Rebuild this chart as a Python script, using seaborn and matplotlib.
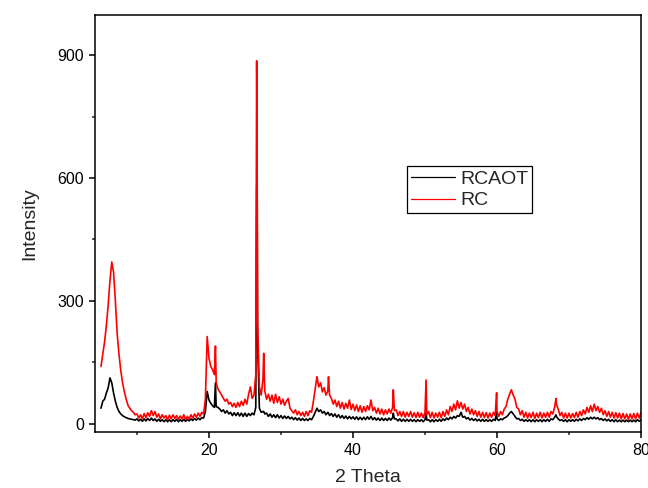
import matplotlib
matplotlib.use("Agg")
import matplotlib.pyplot as plt
import numpy as np
import pandas as pd
import seaborn as sns
from matplotlib.ticker import MultipleLocator

# 2 theta positions (deg), one row per degree, extra points at sharp reflections
TWO_THETA = [
    5.0, 5.25, 5.5, 5.75,
    6.0, 6.25, 6.5, 6.75,
    7.0, 7.25, 7.5, 7.75,
    8.0, 8.25, 8.5, 8.75,
    9.0, 9.25, 9.5, 9.75,
    10.0, 10.25, 10.5, 10.75,
    11.0, 11.25, 11.5, 11.75,
    12.0, 12.25, 12.5, 12.75,
    13.0, 13.25, 13.5, 13.75,
    14.0, 14.25, 14.5, 14.75,
    15.0, 15.25, 15.5, 15.75,
    16.0, 16.25, 16.5, 16.75,
    17.0, 17.25, 17.5, 17.75,
    18.0, 18.25, 18.5, 18.75,
    19.0, 19.25, 19.5, 19.75,
    20.0, 20.25, 20.5, 20.75, 20.9,
    21.0, 21.25, 21.5, 21.75,
    22.0, 22.25, 22.5, 22.75,
    23.0, 23.25, 23.5, 23.75,
    24.0, 24.25, 24.5, 24.75,
    25.0, 25.25, 25.5, 25.75,
    26.0, 26.25, 26.5, 26.55, 26.62, 26.68, 26.75,
    27.0, 27.25, 27.5, 27.6, 27.75,
    28.0, 28.25, 28.5, 28.75,
    29.0, 29.25, 29.5, 29.75,
    30.0, 30.25, 30.5, 30.75,
    31.0, 31.25, 31.5, 31.75,
    32.0, 32.25, 32.5, 32.75,
    33.0, 33.25, 33.5, 33.75,
    34.0, 34.25, 34.5, 34.75,
    35.0, 35.25, 35.5, 35.75,
    36.0, 36.25, 36.5, 36.6, 36.75,
    37.0, 37.25, 37.5, 37.75,
    38.0, 38.25, 38.5, 38.75,
    39.0, 39.25, 39.5, 39.75,
    40.0, 40.25, 40.5, 40.75,
    41.0, 41.25, 41.5, 41.75,
    42.0, 42.25, 42.5, 42.75,
    43.0, 43.25, 43.5, 43.75,
    44.0, 44.25, 44.5, 44.75,
    45.0, 45.25, 45.5, 45.6, 45.75,
    46.0, 46.25, 46.5, 46.75,
    47.0, 47.25, 47.5, 47.75,
    48.0, 48.25, 48.5, 48.75,
    49.0, 49.25, 49.5, 49.75,
    50.0, 50.15, 50.25, 50.5, 50.75,
    51.0, 51.25, 51.5, 51.75,
    52.0, 52.25, 52.5, 52.75,
    53.0, 53.25, 53.5, 53.75,
    54.0, 54.25, 54.5, 54.75,
    55.0, 55.25, 55.5, 55.75,
    56.0, 56.25, 56.5, 56.75,
    57.0, 57.25, 57.5, 57.75,
    58.0, 58.25, 58.5, 58.75,
    59.0, 59.25, 59.5, 59.75, 59.95,
    60.0, 60.25, 60.5, 60.75,
    61.0, 61.25, 61.5, 61.75,
    62.0, 62.25, 62.5, 62.75,
    63.0, 63.25, 63.5, 63.75,
    64.0, 64.25, 64.5, 64.75,
    65.0, 65.25, 65.5, 65.75,
    66.0, 66.25, 66.5, 66.75,
    67.0, 67.25, 67.5, 67.75,
    68.0, 68.2, 68.25, 68.5, 68.75,
    69.0, 69.25, 69.5, 69.75,
    70.0, 70.25, 70.5, 70.75,
    71.0, 71.25, 71.5, 71.75,
    72.0, 72.25, 72.5, 72.75,
    73.0, 73.25, 73.5, 73.75,
    74.0, 74.25, 74.5, 74.75,
    75.0, 75.25, 75.5, 75.75,
    76.0, 76.25, 76.5, 76.75,
    77.0, 77.25, 77.5, 77.75,
    78.0, 78.25, 78.5, 78.75,
    79.0, 79.25, 79.5, 79.75,
    80.0,
]

RC = [
    140, 170, 200, 240,
    290, 350, 395, 370,
    300, 220, 170, 130,
    100, 78, 60, 45,
    38, 32, 28, 22,
    24, 14, 22, 12,
    25, 15, 27, 18,
    32, 20, 30, 16,
    24, 12, 22, 14,
    20, 10, 21, 12,
    22, 13, 20, 11,
    19, 12, 22, 10,
    18, 12, 22, 14,
    24, 16, 26, 18,
    28, 24, 60, 213,
    160, 140, 132, 120, 190,
    100, 85, 78, 70,
    62, 55, 60, 48,
    52, 42, 50, 40,
    52, 42, 55, 45,
    60, 48, 72, 90,
    62, 70, 120, 450, 886, 700, 250,
    90, 70, 110, 172, 80,
    60, 72, 55, 70,
    50, 72, 52, 66,
    48, 60, 45, 55,
    62, 38, 32, 26,
    34, 22, 30, 20,
    28, 18, 30, 20,
    32, 28, 55, 85,
    115, 90, 100, 78,
    88, 70, 80, 115, 70,
    62, 48, 58, 42,
    55, 38, 52, 36,
    50, 38, 58, 35,
    48, 32, 46, 30,
    44, 28, 42, 30,
    44, 34, 58, 32,
    40, 26, 38, 24,
    36, 22, 34, 24,
    36, 26, 40, 83, 32,
    34, 20, 30, 18,
    30, 16, 28, 18,
    30, 16, 27, 15,
    28, 16, 26, 15,
    28, 107, 22, 30, 15,
    28, 14, 26, 16,
    28, 15, 30, 18,
    34, 22, 42, 30,
    48, 34, 56, 38,
    52, 36, 48, 30,
    40, 24, 36, 22,
    32, 18, 30, 16,
    28, 15, 27, 14,
    26, 16, 28, 20, 76,
    30, 18, 30, 22,
    36, 42, 60, 72,
    83, 70, 60, 40,
    36, 22, 32, 16,
    28, 14, 26, 15,
    28, 13, 26, 15,
    28, 14, 26, 16,
    28, 16, 30, 24,
    40, 62, 48, 36, 20,
    28, 14, 26, 14,
    26, 14, 25, 15,
    28, 16, 30, 20,
    34, 24, 40, 28,
    44, 30, 48, 32,
    42, 28, 38, 22,
    32, 18, 30, 16,
    28, 14, 27, 14,
    26, 12, 25, 12,
    24, 11, 24, 12,
    25, 12, 26, 14,
    28,
]

RCAOT = [
    38, 55, 60, 75,
    88, 112, 100, 75,
    55, 40, 30, 24,
    20, 17, 15, 13,
    12, 11, 10, 9,
    12, 7, 11, 6,
    12, 7, 13, 8,
    14, 8, 12, 6,
    11, 6, 10, 5,
    10, 5, 10, 5,
    10, 6, 11, 5,
    10, 6, 11, 6,
    11, 7, 12, 8,
    13, 9, 14, 10,
    15, 14, 30, 79,
    58, 50, 44, 40, 100,
    42, 40, 36, 30,
    34, 26, 32, 24,
    28, 20, 27, 20,
    27, 19, 26, 18,
    26, 18, 25, 20,
    26, 22, 40, 300, 560, 628, 200,
    38, 28, 30, 30, 24,
    26, 18, 24, 16,
    22, 15, 22, 14,
    20, 13, 19, 13,
    18, 12, 16, 10,
    15, 9, 14, 8,
    13, 8, 12, 8,
    13, 10, 18, 28,
    38, 30, 34, 26,
    30, 22, 28, 26, 20,
    25, 18, 24, 16,
    22, 14, 20, 13,
    19, 12, 18, 12,
    17, 11, 17, 10,
    16, 10, 16, 10,
    17, 11, 18, 10,
    15, 9, 14, 8,
    14, 8, 13, 8,
    14, 9, 15, 26, 12,
    12, 7, 12, 6,
    11, 6, 11, 6,
    11, 6, 10, 5,
    10, 6, 10, 5,
    10, 28, 9, 10, 5,
    10, 5, 10, 6,
    11, 6, 12, 8,
    14, 10, 16, 12,
    18, 14, 20, 18,
    28, 16, 18, 12,
    15, 9, 13, 8,
    12, 7, 11, 6,
    11, 6, 10, 6,
    10, 6, 11, 8, 30,
    12, 8, 12, 10,
    14, 16, 20, 26,
    30, 24, 18, 12,
    13, 8, 11, 6,
    10, 6, 10, 5,
    10, 5, 10, 6,
    10, 5, 10, 6,
    11, 6, 12, 10,
    16, 22, 18, 12, 8,
    10, 6, 10, 5,
    10, 6, 10, 6,
    11, 7, 12, 8,
    13, 10, 15, 11,
    16, 12, 16, 12,
    15, 10, 13, 8,
    12, 7, 11, 6,
    10, 5, 10, 5,
    9, 5, 9, 5,
    9, 5, 9, 5,
    9, 5, 10, 6,
    10,
]

SERIES = ["RCAOT", "RC"]
COLORS = {"RCAOT": "#000000", "RC": "#ff0000"}


def main() -> None:
    assert len(TWO_THETA) == len(RC) == len(RCAOT)
    sns.set_theme(style="ticks")
    plt.rcParams["font.family"] = ["Liberation Sans", "DejaVu Sans"]

    df = pd.DataFrame({"2 Theta": TWO_THETA, "RCAOT": RCAOT, "RC": RC})
    long = df.melt(id_vars="2 Theta", value_vars=SERIES, var_name="sample", value_name="Intensity")

    fig = plt.figure(figsize=(6.48, 4.88), dpi=100)
    ax = fig.add_axes([0.1466, 0.1148, 0.8426, 0.8545])
    sns.lineplot(data=long, x="2 Theta", y="Intensity", hue="sample", hue_order=SERIES,
                 palette=COLORS, estimator=None, sort=False, linewidth=1.2, ax=ax)

    ax.set_xlim(4.17, 80)
    ax.set_ylim(-20, 998)
    ax.xaxis.set_major_locator(MultipleLocator(20))
    ax.xaxis.set_minor_locator(MultipleLocator(10))
    ax.yaxis.set_major_locator(MultipleLocator(300))
    ax.yaxis.set_minor_locator(MultipleLocator(150))
    ax.tick_params(axis="both", which="major", direction="out", length=4.5, width=1.1,
                   labelsize=11.5, colors="black", top=False, right=False)
    ax.tick_params(axis="both", which="minor", direction="out", length=2.5, width=1.1,
                   top=False, right=False)
    for spine in ax.spines.values():
        spine.set_visible(True)
        spine.set_color("black")
        spine.set_linewidth(1.1)
    ax.set_xlabel("2 Theta", fontsize=14, labelpad=8)
    ax.set_ylabel("Intensity", fontsize=14, labelpad=14)

    leg = ax.legend(loc="upper left", bbox_to_anchor=(0.571, 0.637), fontsize=14,
                    frameon=True, fancybox=False, framealpha=1, edgecolor="black",
                    handlelength=2.3, borderpad=0.2, labelspacing=0.2, handletextpad=0.25,
                    borderaxespad=0)
    leg.get_frame().set_linewidth(0.9)
    for line in leg.get_lines():
        line.set_linewidth(0.9)

    fig.savefig("out.png", dpi=100, facecolor="white")
    plt.close(fig)


if __name__ == "__main__":
    main()
